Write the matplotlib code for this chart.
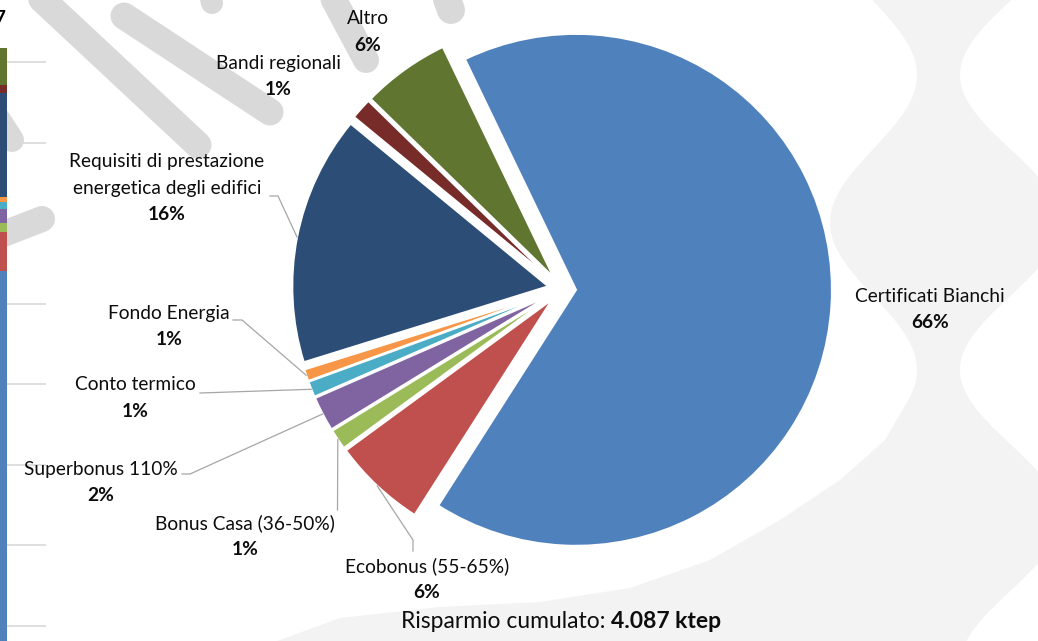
import textwrap
import numpy as np
import matplotlib
matplotlib.use("Agg")
import matplotlib.pyplot as plt
from matplotlib.patches import Polygon

# ---------------- data ----------------
categories = ["Certificati Bianchi", "Ecobonus (55-65%)", "Bonus Casa (36-50%)",
              "Superbonus 110%", "Conto termico", "Fondo Energia",
              "Requisiti di prestazione energetica degli edifici",
              "Bandi regionali", "Altro"]
savings_ktep = [2705, 241, 53, 90, 41, 31, 644, 55, 227]
colors = ["#4F81BD", "#C0504D", "#9BBB59", "#8064A2", "#4BACC6",
          "#F79646", "#2C4D75", "#772C2A", "#5F7530"]
total_prefix = "Risparmio cumulato: "
unit = "ktep"
grid_step = 500
grid_max = 4500

plt.rcParams['font.family'] = ['Lato', 'DejaVu Sans']

W, H = 1038, 641
fig = plt.figure(figsize=(W / 100, H / 100), dpi=100)
fig.patch.set_facecolor("white")


def sy(y):
    return H - y


# ---------------- background layer ----------------
ax_bg = fig.add_axes([0, 0, 1, 1], zorder=0)
ax_bg.set_xlim(0, W)
ax_bg.set_ylim(0, H)
ax_bg.axis("off")

GREY = "#F3F3F3"
ys = np.linspace(-10, 400, 120)
ph = 2 * np.pi * (ys - 75) / 295
xl = 873.5 + 43.5 * np.cos(ph)
pts = [(x, sy(y)) for x, y in zip(xl, ys)]
bottom_curve = [(885, 440), (840, 480), (780, 520), (710, 560), (630, 588),
                (540, 602), (440, 607), (340, 618), (250, 651)]
pts += [(x, sy(y)) for x, y in bottom_curve]
pts += [(W + 10, sy(651)), (W + 10, sy(-10))]
ax_bg.add_patch(Polygon(pts, closed=True, facecolor=GREY, edgecolor="none"))

ys2 = np.linspace(-10, 651, 200)
ph2 = 2 * np.pi * (ys2 - 75) / 295
xr = 1010 - 50 * np.cos(ph2)
pts2 = [(x, sy(y)) for x, y in zip(xr, ys2)] + [(W + 10, sy(651)), (W + 10, sy(-10))]
ax_bg.add_patch(Polygon(pts2, closed=True, facecolor="white", edgecolor="none"))

STRIPE = "#D9D9D9"
stripes = [((16, -25), (198, 145), 27), ((124, 16), (270, 112), 27),
           ((326, -15), (366, 60), 26), ((438, -25), (451, 10), 28),
           ((205, -25), (212, 3), 22), ((-15, 98), (12, 140), 24),
           ((-25, 245), (42, 219), 26)]
for (x1, y1), (x2, y2), wpx in stripes:
    ax_bg.plot([x1, x2], [sy(y1), sy(y2)], color=STRIPE, lw=wpx * 0.72,
               solid_capstyle="round")

# ---------------- left stacked bar (same data) ----------------
px_per_ktep = 80.57 / grid_step
bar_bottom_px = 706.6
ax_bar = fig.add_axes([0, (H - bar_bottom_px) / H, 46 / W,
                       grid_max * px_per_ktep / H], zorder=1)
ax_bar.set_xlim(0, 46)
ax_bar.set_ylim(0, grid_max)
ax_bar.patch.set_alpha(0)
for s in ax_bar.spines.values():
    s.set_visible(False)
ax_bar.set_yticks(np.arange(grid_step, grid_max + 1, grid_step))
ax_bar.set_xticks([])
ax_bar.tick_params(left=False, labelleft=False)
ax_bar.grid(axis="y", color="#D9D9D9", lw=1.2)
ax_bar.set_axisbelow(True)
bottom = 0
for v, c in zip(savings_ktep, colors):
    ax_bar.bar(-14, v, width=42, bottom=bottom, color=c, edgecolor="none", zorder=2)
    bottom += v
total = sum(savings_ktep)
total_str = f"{total:,}".replace(",", ".")
ax_bar.text(6.5, total + 29.5 / px_per_ktep, total_str, ha="right", va="center",
            fontsize=13.8, fontweight="bold", color="black", clip_on=False)

# ---------------- pie ----------------
ax = fig.add_axes([0, 0, 1, 1], zorder=2)
ax.patch.set_alpha(0)
center = (562, sy(289))
R = 256
wedges, _ = ax.pie(savings_ktep, colors=colors, startangle=115.7, counterclock=False,
                   center=center, radius=R, explode=[14] * len(savings_ktep),
                   wedgeprops=dict(edgecolor="white", linewidth=1.5))
ax.set_xlim(0, W)
ax.set_ylim(0, H)
ax.set_aspect("auto")
ax.axis("off")

FS = 13.8
LINE = 26.5
label_pos = [(930, 296), (427, 566), (245, 523), (101, 469), (135, 385),
             (169, 313), (167, 162), (278, 63), (368, 19)]
leaders = {1: [(413, 540), (413, 551)], 2: [(337.5, 510)],
           3: [(190, 474), (182, 474)], 4: [(200, 393)],
           5: [(242, 320), (233, 320)], 6: [(278, 196), (270, 196)]}

for i, (name, v) in enumerate(zip(categories, savings_ktep)):
    x0, y0 = label_pos[i]
    lines = textwrap.fill(name, 24).split("\n")
    for k, ln in enumerate(lines):
        ax.text(x0, sy(y0 + k * LINE), ln, ha="center", va="center",
                fontsize=FS, color="#0D0D0D", zorder=5)
    pct = f"{round(v / total * 100)}%"
    ax.text(x0, sy(y0 + len(lines) * LINE), pct, ha="center", va="center",
            fontsize=FS, fontweight="bold", color="#0D0D0D", zorder=5)
    if i in leaders:
        w = wedges[i]
        mid = np.deg2rad((w.theta1 + w.theta2) / 2)
        ex = w.center[0] + w.r * np.cos(mid)
        ey = w.center[1] + w.r * np.sin(mid)
        xs = [ex] + [p[0] for p in leaders[i]]
        yv = [ey] + [sy(p[1]) for p in leaders[i]]
        ax.plot(xs, yv, color="#A6A6A6", lw=0.9, zorder=4)

t1 = ax.text(401, sy(622), total_prefix, ha="left", va="center",
             fontsize=16.5, color="#0D0D0D", zorder=5)
ax.annotate(f"{total_str} {unit}", xy=(1, 0.5), xycoords=t1, ha="left", va="center",
            fontsize=16.5, fontweight="bold", color="#0D0D0D", zorder=5)

fig.savefig("out.png", dpi=100, facecolor="white")
